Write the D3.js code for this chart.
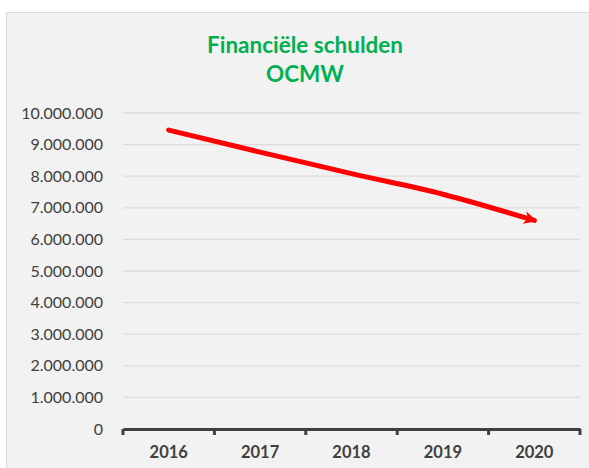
<!DOCTYPE html>
<html><head><meta charset="utf-8">
<script src="https://cdn.jsdelivr.net/npm/d3@7"></script>
<style>body{margin:0;background:#fff}svg{display:block}</style>
</head><body>
<script>
const categories = ["2016","2017","2018","2019","2020"];
const values = [9460000, 8760000, 8080000, 7430000, 6600000];
const yTicks = [0,1000000,2000000,3000000,4000000,5000000,6000000,7000000,8000000,9000000,10000000];
const titleLines = ["Financiële schulden","OCMW"];

const W=589,H=468;
const svg=d3.select("body").append("svg").attr("width",W).attr("height",H);
svg.append("rect").attr("x",6.5).attr("y",12.5).attr("width",W-6).attr("height",H-12)
  .attr("fill","#f2f2f2").attr("stroke","#d9d9d9");

const x=d3.scaleBand().domain(categories).range([123,580]);
const y=d3.scaleLinear().domain([0,10000000]).range([429,113]);
const fmt=v=>d3.format(",")(v).replace(/,/g,".");

// gridlines
svg.append("g").selectAll("line").data(yTicks.filter(d=>d>0)).join("line")
  .attr("x1",123).attr("x2",580).attr("y1",d=>y(d)).attr("y2",d=>y(d))
  .attr("stroke","#dcdcdc").attr("stroke-width",1.3);

// y axis labels
const ya=svg.append("g").attr("transform","translate(103,0)")
  .call(d3.axisLeft(y).tickValues(yTicks).tickFormat(fmt).tickSize(0).tickPadding(0));
ya.select(".domain").remove();
ya.selectAll("text").attr("font-family","Lato, 'Open Sans', sans-serif").attr("font-size",16).attr("fill","#404040");

// x axis
const xa=svg.append("g").attr("transform","translate(0,429)")
  .call(d3.axisBottom(x).tickSize(0).tickPadding(17));
xa.select(".domain").attr("stroke","#404040").attr("stroke-width",3);
xa.selectAll("text").attr("font-family","Lato, 'Open Sans', sans-serif").attr("font-size",16.5).attr("font-weight","bold").attr("fill","#404040");
const bounds=[...categories.map(c=>x(c)), x.range()[1]];
xa.append("g").selectAll("line").data(bounds).join("line")
  .attr("x1",d=>d).attr("x2",d=>d).attr("y1",0).attr("y2",6)
  .attr("stroke","#404040").attr("stroke-width",3);

// arrow marker
svg.append("defs").append("marker").attr("id","arr")
  .attr("viewBox","0 0 10 10").attr("refX",8).attr("refY",5)
  .attr("markerWidth",2.6).attr("markerHeight",2.6).attr("orient","auto")
  .append("path").attr("d","M0,0 L10,5 L0,10 L3,5 Z").attr("fill","#ff0000");

const line=d3.line().x((d,i)=>x(categories[i])+x.bandwidth()/2).y(d=>y(d)).curve(d3.curveMonotoneX);
svg.append("path").datum(values).attr("d",line).attr("fill","none")
  .attr("stroke","#ff0000").attr("stroke-width",5).attr("stroke-linecap","round")
  .attr("marker-end","url(#arr)");

// title
svg.append("g").selectAll("text").data(titleLines).join("text")
  .attr("x",305).attr("y",(d,i)=>53+i*29).attr("text-anchor","middle")
  .attr("font-family","Lato, 'Open Sans', sans-serif").attr("font-weight","bold")
  .attr("font-size",22.5).attr("fill","#00b050").text(d=>d);
</script>
</body></html>
